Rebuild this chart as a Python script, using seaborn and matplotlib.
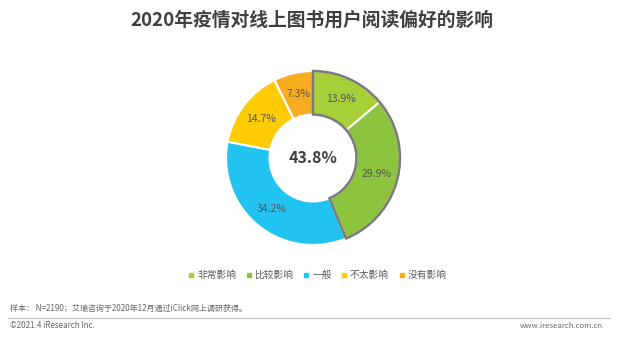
import matplotlib
matplotlib.use("Agg")
import matplotlib.pyplot as plt
from matplotlib.patches import Wedge
import seaborn as sns

sns.set_theme(style="white")
plt.rcParams['font.family'] = ['Noto Sans CJK SC', 'DejaVu Sans']

categories = ["非常影响", "比较影响", "一般", "不太影响", "没有影响"]
shares = [13.9, 29.9, 34.2, 14.7, 7.3]
colors = ["#a8cf38", "#8cc43f", "#21c3f1", "#ffcb05", "#f7ad1f"]
highlight_total = 43.8

W, H = 624, 344
fig = plt.figure(figsize=(W / 100, H / 100), dpi=100)
fig.patch.set_facecolor("white")

# donut axes centred on the chart area
cx, cy, box = 313, 158, 200
ax = fig.add_axes([(cx - box / 2) / W, (H - cy - box / 2) / H, box / W, box / H])
wedges, texts, autotexts = ax.pie(
    shares, colors=colors, startangle=90, counterclock=False,
    autopct=lambda p: f"{p:.1f}%", pctdistance=0.75,
    wedgeprops=dict(width=0.5, edgecolor="white", linewidth=1.5),
    textprops=dict(fontsize=7.5, color="#555555"),
)
for t, v in zip(autotexts, shares):
    t.set_text(f"{v:.1f}%")

# outline around the combined "affected" share
end_angle = 90 - highlight_total / 100 * 360
ax.add_patch(Wedge((0, 0), 1.0, end_angle, 90, width=0.5, fill=False,
                   edgecolor="#7a7a7a", linewidth=1.8, zorder=5))
ax.text(0, 0, f"{highlight_total:.1f}%", ha="center", va="center",
        fontsize=11.5, fontweight="bold", color="#404040")
ax.set_xlim(-1.15, 1.15)
ax.set_ylim(-1.15, 1.15)
ax.set_aspect("equal")
ax.axis("off")

# title
fig.text(312 / W, 1 - 20 / H, "2020年疫情对线上图书用户阅读偏好的影响",
         ha="center", va="center", fontsize=13.5, fontweight="bold", color="#404040")

# legend
handles = [plt.Line2D([0], [0], marker="s", linestyle="", markersize=3.5,
                      markerfacecolor=c, markeredgecolor=c) for c in colors]
fig.legend(handles, categories, loc="center", bbox_to_anchor=(317 / W, 1 - 275 / H),
           ncol=5, frameon=False, fontsize=7, handletextpad=0.2,
           columnspacing=0.9, labelcolor="#595959", handlelength=0.8)

# footer
fig.text(10 / W, 1 - 308 / H, "样本： N=2190；艾瑞咨询于2020年12月通过iClick网上调研获得。",
         ha="left", va="center", fontsize=5.8, color="#666666")
fig.add_artist(plt.Line2D([8 / W, 610 / W], [1 - 318 / H, 1 - 318 / H],
                          color="#bfbfbf", linewidth=0.8))
fig.text(10 / W, 1 - 326 / H, "©2021.4 iResearch Inc.",
         ha="left", va="center", fontsize=5.8, color="#666666")
fig.text(603 / W, 1 - 326 / H, "www.iresearch.com.cn",
         ha="right", va="center", fontsize=5.6, color="#666666")

fig.savefig("out.png", dpi=100, facecolor="white")
